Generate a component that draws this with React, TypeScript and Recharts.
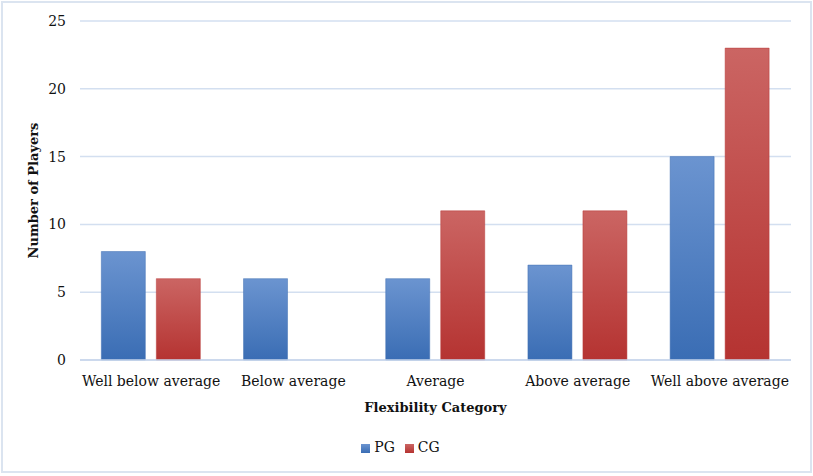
import React from 'react';
import { BarChart, Bar, XAxis, YAxis, CartesianGrid, Legend } from 'recharts';

const categories = ['Well below average', 'Below average', 'Average', 'Above average', 'Well above average'];
const pgValues = [8, 6, 6, 7, 15];
const cgValues = [6, 0, 11, 11, 23];
const yTicks = [0, 5, 10, 15, 20, 25];
const seriesOrder = ['PG', 'CG'];

const data = categories.map((name, i) => ({ name, PG: pgValues[i], CG: cgValues[i] }));

const FONT = '"DejaVu Serif", serif';

const YLabel = (props: any) => {
  const vb = props.viewBox || {};
  const x = vb.x + 18;
  const y = vb.y + vb.height / 2;
  return (
    <text
      x={x}
      y={y}
      transform={`rotate(-90, ${x}, ${y})`}
      textAnchor="middle"
      fontFamily={FONT}
      fontWeight="bold"
      fontSize={13}
      fill="#111"
    >
      Number of Players
    </text>
  );
};

export default function App() {
  return (
    <div style={{ position: 'fixed', left: 0, top: 0, width: 813, height: 476, background: '#fff' }}>
      <BarChart
        width={813}
        height={476}
        data={data}
        margin={{ top: 21, right: 22, bottom: 21, left: 20 }}
        barGap={11}
        barCategoryGap="15%"
      >
        <defs>
          <linearGradient id="pgGrad" x1="0" y1="0" x2="0" y2="1">
            <stop offset="0%" stopColor="#6b94d0" />
            <stop offset="100%" stopColor="#3a6db4" />
          </linearGradient>
          <linearGradient id="cgGrad" x1="0" y1="0" x2="0" y2="1">
            <stop offset="0%" stopColor="#cb6563" />
            <stop offset="100%" stopColor="#b53331" />
          </linearGradient>
        </defs>
        <CartesianGrid vertical={false} stroke="#d3dff0" strokeWidth={1.5} />
        <XAxis
          dataKey="name"
          axisLine={{ stroke: '#c6d5eb', strokeWidth: 1.5 }}
          tickLine={false}
          tickMargin={10}
          height={79}
          interval={0}
          tick={{ fontFamily: FONT, fontSize: 14, fill: '#111' }}
          label={{
            value: 'Flexibility Category',
            position: 'insideBottom',
            offset: 27,
            style: { fontFamily: FONT, fontWeight: 'bold', fontSize: 13, fill: '#111' },
          }}
        />
        <YAxis
          domain={[0, 25]}
          ticks={yTicks}
          axisLine={false}
          tickLine={false}
          width={60}
          tickMargin={8}
          tick={{ fontFamily: FONT, fontSize: 14, fill: '#111' }}
          label={<YLabel />}
        />
        <Legend
          verticalAlign="bottom"
          align="center"
          iconType="square"
          iconSize={9}
          itemSorter={(item: any) => seriesOrder.indexOf(item.dataKey)}
          wrapperStyle={{ fontFamily: FONT, fontSize: 14, color: '#111' }}
          formatter={(v: string) => <span style={{ color: '#111' }}>{v}</span>}
        />
        <Bar dataKey="PG" fill="url(#pgGrad)" stroke="#3f6fb3" strokeWidth={0.5} isAnimationActive={false} legendType="square" />
        <Bar dataKey="CG" fill="url(#cgGrad)" stroke="#b83a38" strokeWidth={0.5} isAnimationActive={false} legendType="square" />
      </BarChart>
      <div
        style={{
          position: 'absolute',
          left: 1,
          top: 1,
          width: 811,
          height: 472,
          border: '2px solid #dbe4f0',
          boxSizing: 'border-box',
          pointerEvents: 'none',
        }}
      />
    </div>
  );
}
